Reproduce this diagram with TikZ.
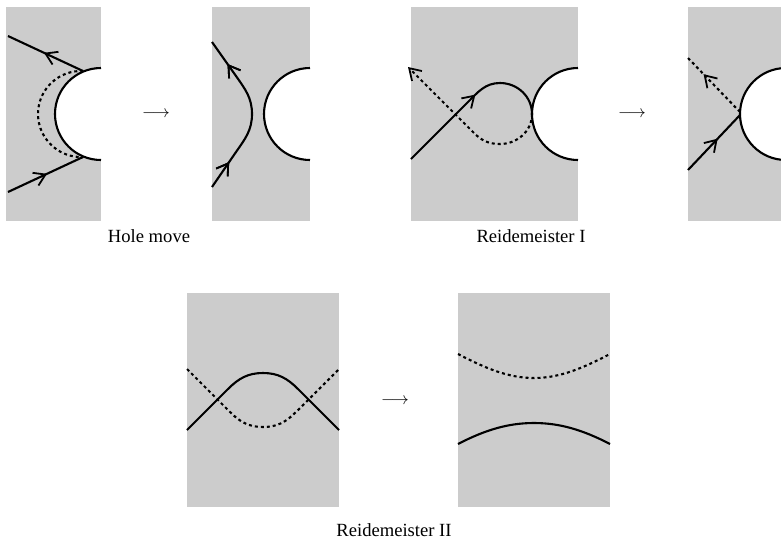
\documentclass[tikz,border=0pt]{standalone}
\usepackage{fontspec}
\setmainfont{Liberation Serif}
\usetikzlibrary{arrows.meta,decorations.markings}
\definecolor{sheetgray}{gray}{0.8}
\begin{document}
\begin{tikzpicture}[x=1pt,y=1pt,
    font=\fontsize{18.6}{22}\selectfont,
    >={Straight Barb[length=11pt,width=14pt,line width=1.8pt]},
    sheet/.style={fill=sheetgray},
    hole/.style={fill=white},
    strand/.style={line width=2.1pt},
    under/.style={line width=2.1pt,dash pattern=on 3pt off 3pt},
    midarrow/.style={postaction={decorate},
      decoration={markings,mark=at position #1 with {\arrow{>}}}}]
  \useasboundingbox (0,0) rectangle (781,-542);

  % Hole move, before
  \fill[sheet] (6,-7) rectangle (101,-221);
  \fill[hole] (101,-68) arc (90:270:46) -- cycle;
  \draw[strand] (101,-68) arc (90:270:46);
  \draw[under] (81,-114) ++(87:43) arc (87:273:43);
  \draw[strand,midarrow=0.52] (8,-192) -- (83,-157);
  \draw[strand,midarrow=0.52] (83,-71) -- (8,-36);
  \node (movearrow) at (156,-114) {$\longrightarrow$};

  % Hole move, after
  \fill[sheet] (212,-7) rectangle (310,-221);
  \fill[hole] (310,-68) arc (90:270:46) -- cycle;
  \draw[strand] (310,-68) arc (90:270:46);
  \draw[strand,midarrow=0.18,midarrow=0.84] (212,-187) -- (236,-152)
    to[out=55,in=-90] (252,-114) to[out=90,in=-55] (236,-76) -- (212,-42);
  \node (holelabel) [anchor=base] at (149,-242) {Hole move};

  % Reidemeister I, before
  \fill[sheet] (411,-7) rectangle (578,-221);
  \fill[hole] (578,-68) arc (90:270:46) -- cycle;
  \draw[strand] (578,-68) arc (90:270:46);
  \draw[under,->] (532,-114) to[out=-90,in=0] (500,-144)
    to[out=180,in=-45] (474,-133) -- (408,-67);
  \draw[strand,midarrow=0.54] (411,-159) -- (468,-102)
    to[out=45,in=180] (500,-83) to[out=0,in=90] (532,-114);
  \node (twistarrow) at (632,-114) {$\longrightarrow$};

  % Reidemeister I, after
  \fill[sheet] (688,-7) rectangle (786,-221);
  \fill[hole] (786,-68) arc (90:270:46) -- cycle;
  \draw[strand] (786,-68) arc (90:270:46);
  \draw[under,midarrow=0.7] (740,-112) -- (688,-58);
  \draw[strand,midarrow=0.57] (688,-170) -- (740,-115);
  \node (twistlabel) [anchor=base] at (531,-242) {Reidemeister I};

  % Reidemeister II, before
  \fill[sheet] (187,-293) rectangle (339,-507);
  \draw[under] (187,-369) -- (230,-412) to[out=-45,in=180] (263,-427)
    to[out=0,in=-135] (296,-412) -- (339,-369);
  \draw[strand] (187,-430) -- (228,-389) to[out=45,in=180] (263,-373)
    to[out=0,in=135] (298,-389) -- (339,-430);
  \node (passarrow) at (395,-401) {$\longrightarrow$};

  % Reidemeister II, after
  \fill[sheet] (458,-293) rectangle (610,-507);
  \draw[under] (458,-354) .. controls (485,-368) and (508,-378) .. (534,-378)
    .. controls (560,-378) and (583,-368) .. (610,-354);
  \draw[strand] (458,-444) .. controls (485,-430) and (508,-423) .. (534,-423)
    .. controls (560,-423) and (583,-430) .. (610,-444);
  \node (passlabel) [anchor=base] at (394,-536) {Reidemeister II};
\end{tikzpicture}
\end{document}
